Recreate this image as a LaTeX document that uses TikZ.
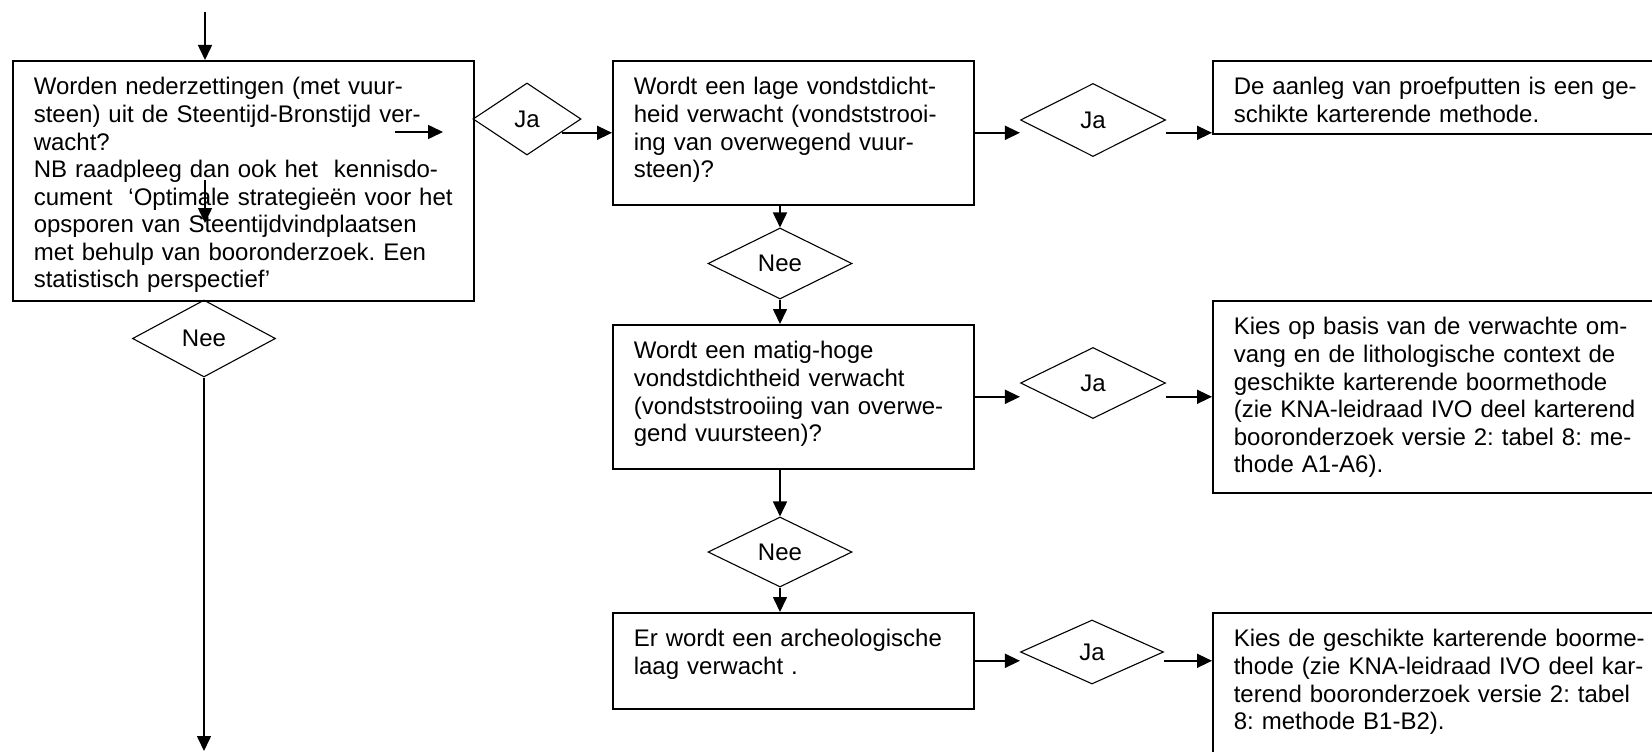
\documentclass[tikz,border=0pt]{standalone}
\usepackage{fontspec}
\setmainfont{Liberation Sans}
\usetikzlibrary{arrows.meta,shapes.geometric}

\tikzset{
  blok/.style={draw, rectangle, line width=1.6pt, anchor=north west, align=left,
    inner xsep=21pt, inner ysep=17pt, text height=17pt,
    font=\fontsize{24}{27.6}\selectfont\frenchspacing},
  ruit/.style={draw, diamond, line width=1.1pt, inner sep=0pt,
    font=\fontsize{24}{27.6}\selectfont},
  pijl/.style={line width=1.6pt, -{Triangle[length=15pt,width=14pt]}}
}

\begin{document}
\begin{tikzpicture}[x=1pt,y=-1pt]
	\path[use as bounding box, clip] (0,0) rectangle (1652,752);

	% Vragen
	\node[blok, text width=419pt, text depth=189pt] (vraag1) at (12,60) {Worden nederzettingen (met vuur-\\steen) uit de Steentijd-Bronstijd ver-\\wacht?\\NB raadpleeg dan ook het\ \ kennisdo-\\cument\ \ ‘Optimale strategieën voor het\\opsporen van Steentijdvindplaatsen\\met behulp van booronderzoek. Een\\statistisch perspectief’};
	\node[blok, text width=319pt, text depth=93pt] (vraag2) at (612,60) {Wordt een lage vondstdicht-\\heid verwacht (vondststrooi-\\ing van overwegend vuur-\\steen)?};
	\node[blok, text width=319pt, text depth=93pt] (vraag3) at (612,324) {Wordt een matig-hoge\\vondstdichtheid verwacht\\(vondststrooiing van overwe-\\gend vuursteen)?};
	\node[blok, text width=319pt, text depth=45pt] (vraag4) at (612,612) {Er wordt een archeologische\\laag verwacht .};

	% Antwoorden
	\node[blok, text width=438pt, text depth=22pt] (antw1) at (1212,60) {De aanleg van proefputten is een ge-\\schikte karterende methode.};
	\node[blok, text width=438pt, text depth=141pt] (antw2) at (1212,300) {Kies op basis van de verwachte om-\\vang en de lithologische context de\\geschikte karterende boormethode\\(zie KNA-leidraad IVO deel karterend\\booronderzoek versie 2: tabel 8: me-\\thode A1-A6).};
	\node[blok, text width=438pt, text depth=149pt] (antw3) at (1212,612) {Kies de geschikte karterende boorme-\\thode (zie KNA-leidraad IVO deel kar-\\terend booronderzoek versie 2: tabel\\8: methode B1-B2).};

	% Ruiten
	\node[ruit, minimum width=108pt, minimum height=72pt] (ja1) at (527,119) {Ja};
	\node[ruit, minimum width=145pt, minimum height=73pt] (ja2) at (1093,120) {Ja};
	\node[ruit, minimum width=145pt, minimum height=71pt] (ja3) at (1093,383) {Ja};
	\node[ruit, minimum width=143pt, minimum height=64pt] (ja4) at (1092,652) {Ja};
	\node[ruit, minimum width=143pt, minimum height=77pt] (nee1) at (204,338.5) {Nee};
	\node[ruit, minimum width=144pt, minimum height=71pt] (nee2) at (780,263.5) {Nee};
	\node[ruit, minimum width=144pt, minimum height=70pt] (nee3) at (780,552) {Nee};

	% Losse punten
	\coordinate (begin) at (205,12);
	\coordinate (los1a) at (395,132);
	\coordinate (los1b) at (443,132);
	\coordinate (los2a) at (205,180);
	\coordinate (los2b) at (205,223);
	\coordinate (einde) at (204,751);

	% Pijlen
	\draw[pijl] (begin) -- (begin |- vraag1.north);
	\draw[pijl] (los1a) -- (los1b);
	\draw[pijl] (los2a) -- (los2b);
	\draw[pijl] (nee1.south) -- (einde);
	\draw[pijl] (ja1.-20 |- vraag2.west) -- (vraag2.west);
	\draw[pijl] (vraag2.east) -- (vraag2.east -| ja2.west);
	\draw[pijl] (ja2.east |- vraag2.east) -- (antw1.west |- vraag2.east);
	\draw[pijl] (vraag2.south -| nee2.north) -- (nee2.north);
	\draw[pijl] (nee2.south) -- (nee2.south |- vraag3.north);
	\draw[pijl] (vraag3.east) -- (vraag3.east -| ja3.west);
	\draw[pijl] (ja3.east |- antw2.west) -- (antw2.west);
	\draw[pijl] (vraag3.south -| nee3.north) -- (nee3.north);
	\draw[pijl] (nee3.south) -- (nee3.south |- vraag4.north);
	\draw[pijl] (vraag4.east) -- (vraag4.east -| ja4.west);
	\draw[pijl] (ja4.east |- vraag4.east) -- (antw3.west |- vraag4.east);
\end{tikzpicture}
\end{document}
